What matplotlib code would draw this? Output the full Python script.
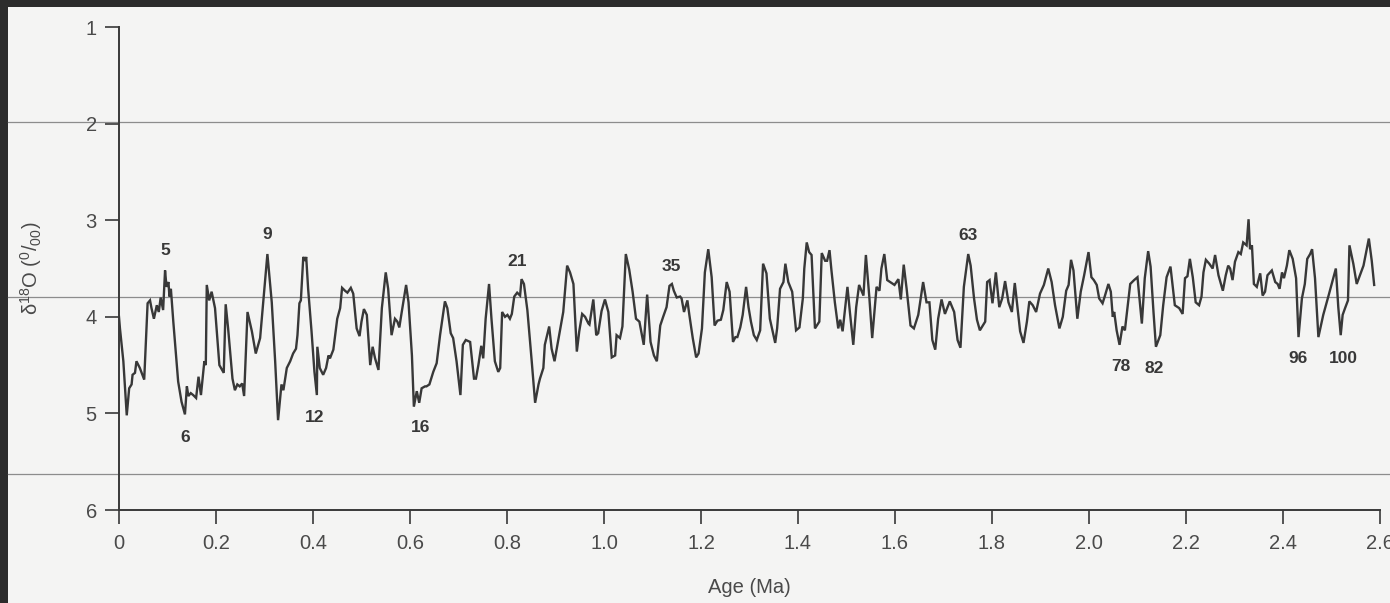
import matplotlib
matplotlib.use("Agg")
import matplotlib.pyplot as plt
from matplotlib.lines import Line2D
from matplotlib.patches import Rectangle

# Benthic oxygen-isotope record, 0-2.6 Ma
age_ma = [
    0.000, 0.002, 0.009, 0.016, 0.021, 0.026, 0.028, 0.033, 0.036, 0.043,
    0.052, 0.059, 0.064, 0.067, 0.072, 0.078, 0.082, 0.086, 0.091, 0.095,
    0.098, 0.102, 0.104, 0.107, 0.112, 0.122, 0.129, 0.136, 0.140, 0.143,
    0.148, 0.153, 0.159, 0.164, 0.169, 0.176, 0.179, 0.181, 0.186, 0.191,
    0.198, 0.207, 0.216, 0.220, 0.225, 0.234, 0.239, 0.244, 0.249, 0.254,
    0.258, 0.265, 0.274, 0.282, 0.291, 0.298,
    0.306, 0.315, 0.322, 0.328, 0.335, 0.339, 0.346, 0.353, 0.359, 0.365,
    0.368, 0.372, 0.375, 0.380, 0.384, 0.386, 0.390, 0.397, 0.403, 0.408,
    0.409, 0.414, 0.421, 0.427, 0.432, 0.435, 0.442, 0.450, 0.456, 0.460,
    0.466, 0.471, 0.478, 0.483, 0.490, 0.496, 0.500, 0.505, 0.511, 0.518,
    0.523, 0.528, 0.535, 0.542, 0.550, 0.555, 0.562, 0.569, 0.574, 0.578,
    0.583, 0.592, 0.597, 0.604, 0.608, 0.614, 0.619, 0.624, 0.631,
    0.634, 0.640, 0.648, 0.655, 0.662, 0.672, 0.677, 0.684, 0.689, 0.696,
    0.704, 0.709, 0.715, 0.724, 0.732, 0.736, 0.741, 0.747, 0.751, 0.756,
    0.763, 0.768, 0.775, 0.782, 0.786, 0.790, 0.796, 0.801, 0.806, 0.810,
    0.815, 0.821, 0.827, 0.830, 0.835, 0.842, 0.851, 0.858, 0.865, 0.868,
    0.875, 0.878, 0.887, 0.892, 0.898, 0.904, 0.911, 0.916, 0.924, 0.930,
    0.937, 0.944, 0.949, 0.955, 0.961, 0.968,
    0.970, 0.978, 0.984, 0.988, 0.995, 1.002, 1.009, 1.016, 1.023, 1.026,
    1.033, 1.038, 1.045, 1.052, 1.059, 1.066, 1.073, 1.082, 1.089, 1.096,
    1.103, 1.109, 1.116, 1.122, 1.129, 1.135, 1.140, 1.144, 1.150, 1.157,
    1.160, 1.165, 1.172, 1.176, 1.183, 1.190, 1.195, 1.202, 1.208, 1.215,
    1.222, 1.228, 1.234, 1.241, 1.246, 1.253, 1.259, 1.266, 1.271, 1.275,
    1.281,
    1.286, 1.293, 1.298, 1.303, 1.309, 1.315, 1.322, 1.328, 1.335, 1.342,
    1.353, 1.357, 1.363, 1.370, 1.374, 1.380, 1.388, 1.396, 1.403, 1.410,
    1.413, 1.418, 1.423, 1.428, 1.435, 1.444, 1.449, 1.456, 1.460, 1.465,
    1.469, 1.476, 1.483, 1.487, 1.492, 1.502, 1.507, 1.514, 1.520, 1.526,
    1.535, 1.540, 1.547, 1.553, 1.557, 1.562, 1.568, 1.572, 1.578, 1.584,
    1.593, 1.599, 1.607, 1.612, 1.618, 1.624, 1.632,
    1.639, 1.648, 1.658, 1.665, 1.671, 1.677, 1.683, 1.689, 1.696, 1.703,
    1.713, 1.722, 1.729, 1.735, 1.742, 1.751, 1.756, 1.763, 1.769, 1.775,
    1.786, 1.790, 1.795, 1.801, 1.808, 1.815, 1.821, 1.827, 1.834, 1.841,
    1.847, 1.852, 1.858, 1.865, 1.872, 1.877, 1.884, 1.891, 1.899, 1.907,
    1.916, 1.923, 1.930, 1.939,
    1.946, 1.953, 1.958, 1.963, 1.968, 1.976, 1.983, 1.990, 1.999, 2.005,
    2.010, 2.016, 2.021, 2.028, 2.033, 2.040, 2.045, 2.049, 2.052, 2.057,
    2.063, 2.069, 2.074, 2.085, 2.093, 2.100, 2.109, 2.115, 2.122, 2.127,
    2.133, 2.138, 2.147, 2.153, 2.160, 2.168, 2.177, 2.186, 2.193, 2.198,
    2.203, 2.208, 2.214, 2.220, 2.227, 2.232, 2.236, 2.241, 2.248, 2.255,
    2.260, 2.267, 2.276,
    2.282, 2.287, 2.291, 2.296, 2.301, 2.308, 2.313, 2.318, 2.325, 2.329,
    2.332, 2.336, 2.340, 2.346, 2.353, 2.358, 2.363, 2.368, 2.377, 2.384,
    2.389, 2.393, 2.398, 2.402, 2.408, 2.413, 2.420, 2.427, 2.432, 2.439,
    2.445, 2.450, 2.456, 2.460, 2.466, 2.473, 2.483, 2.494, 2.509, 2.514,
    2.519, 2.523, 2.528, 2.534, 2.537, 2.545, 2.552, 2.566, 2.577, 2.583,
    2.588,
]
d18o = [
    4.00, 4.12, 4.46, 5.02, 4.74, 4.70, 4.60, 4.58, 4.46, 4.53,
    4.65, 3.86, 3.83, 3.91, 4.02, 3.88, 3.95, 3.80, 3.93, 3.52,
    3.69, 3.64, 3.79, 3.71, 4.05, 4.67, 4.88, 5.01, 4.72, 4.82,
    4.79, 4.81, 4.84, 4.62, 4.81, 4.46, 4.50, 3.67, 3.83, 3.74,
    3.91, 4.50, 4.58, 3.87, 4.12, 4.64, 4.76, 4.70, 4.72, 4.69,
    4.82, 3.95, 4.15, 4.38, 4.22, 3.81,
    3.35, 3.85, 4.46, 5.07, 4.70, 4.76, 4.53, 4.46, 4.38, 4.33,
    4.19, 3.86, 3.83, 3.38, 3.42, 3.38, 3.71, 4.15, 4.57, 4.81,
    4.31, 4.53, 4.60, 4.53, 4.40, 4.43, 4.34, 4.02, 3.91, 3.70,
    3.73, 3.75, 3.70, 3.76, 4.12, 4.20, 4.05, 3.92, 3.98, 4.50,
    4.31, 4.43, 4.55, 3.91, 3.54, 3.71, 4.19, 4.02, 4.05, 4.11,
    3.95, 3.67, 3.85, 4.40, 4.93, 4.77, 4.89, 4.74, 4.72,
    4.72, 4.70, 4.57, 4.48, 4.19, 3.84, 3.91, 4.17, 4.22, 4.46,
    4.81, 4.29, 4.24, 4.26, 4.64, 4.64, 4.50, 4.30, 4.43, 4.02,
    3.66, 4.02, 4.46, 4.57, 4.53, 3.95, 4.00, 3.98, 4.02, 3.97,
    3.79, 3.75, 3.78, 3.61, 3.66, 3.93, 4.46, 4.89, 4.70, 4.64,
    4.53, 4.29, 4.10, 4.33, 4.46, 4.29, 4.09, 3.95, 3.47, 3.54,
    3.66, 4.36, 4.15, 3.97, 4.00, 4.07,
    4.08, 3.82, 4.19, 4.17, 3.94, 3.82, 3.95, 4.42, 4.40, 4.19,
    4.22, 4.10, 3.35, 3.51, 3.74, 4.02, 4.05, 4.29, 3.77, 4.26,
    4.40, 4.46, 4.09, 4.00, 3.90, 3.68, 3.66, 3.73, 3.80, 3.79,
    3.81, 3.95, 3.83, 3.98, 4.22, 4.42, 4.38, 4.12, 3.54, 3.30,
    3.59, 4.09, 4.04, 4.03, 3.93, 3.64, 3.74, 4.26, 4.21, 4.21,
    4.11,
    3.98, 3.69, 3.90, 4.05, 4.19, 4.24, 4.14, 3.45, 3.55, 4.02,
    4.27, 4.12, 3.71, 3.64, 3.45, 3.64, 3.74, 4.14, 4.11, 3.81,
    3.50, 3.23, 3.33, 3.36, 4.12, 4.05, 3.34, 3.42, 3.42, 3.31,
    3.52, 3.85, 4.12, 4.03, 4.15, 3.69, 3.95, 4.29, 3.90, 3.67,
    3.78, 3.36, 3.79, 4.22, 3.98, 3.69, 3.73, 3.50, 3.35, 3.62,
    3.65, 3.67, 3.61, 3.82, 3.46, 3.71, 4.09,
    4.12, 3.98, 3.64, 3.85, 3.85, 4.24, 4.34, 4.02, 3.82, 3.97,
    3.84, 3.95, 4.24, 4.32, 3.69, 3.35, 3.47, 3.81, 4.03, 4.14,
    4.05, 3.64, 3.62, 3.86, 3.54, 3.90, 3.81, 3.63, 3.85, 3.95,
    3.65, 3.88, 4.15, 4.27, 4.05, 3.84, 3.88, 3.95, 3.76, 3.67,
    3.50, 3.64, 3.88, 4.12,
    4.00, 3.73, 3.67, 3.41, 3.52, 4.02, 3.74, 3.57, 3.33, 3.59,
    3.62, 3.67, 3.81, 3.86, 3.78, 3.66, 3.74, 4.00, 3.95, 4.14,
    4.29, 4.10, 4.14, 3.66, 3.62, 3.59, 4.07, 3.60, 3.32, 3.48,
    3.95, 4.31, 4.19, 3.88, 3.59, 3.48, 3.88, 3.91, 3.97, 3.60,
    3.58, 3.40, 3.59, 3.85, 3.88, 3.79, 3.54, 3.41, 3.45, 3.50,
    3.36, 3.57, 3.73,
    3.57, 3.47, 3.50, 3.62, 3.43, 3.33, 3.35, 3.23, 3.26, 2.99,
    3.30, 3.26, 3.66, 3.69, 3.55, 3.78, 3.74, 3.57, 3.52, 3.64,
    3.66, 3.71, 3.54, 3.60, 3.47, 3.31, 3.40, 3.60, 4.21, 3.81,
    3.66, 3.40, 3.35, 3.30, 3.60, 4.21, 3.98, 3.78, 3.50, 3.90,
    4.19, 3.98, 3.91, 3.83, 3.26, 3.45, 3.66, 3.47, 3.19, 3.42,
    3.67,
]

# Marine isotope stage numbers and where they sit
stage_names = ["5", "6", "9", "12", "16", "21", "35", "63", "78", "82", "96", "100"]
stage_age = [0.095, 0.136, 0.305, 0.404, 0.621, 0.821, 1.138, 1.751, 2.066, 2.134, 2.431, 2.524]
stage_d18o = [3.31, 5.25, 3.15, 5.04, 5.15, 3.43, 3.48, 3.16, 4.51, 4.53, 4.43, 4.43]

x_ticks = [0, 0.2, 0.4, 0.6, 0.8, 1.0, 1.2, 1.4, 1.6, 1.8, 2.0, 2.2, 2.4, 2.6]
x_ticklabels = ["0", "0.2", "0.4", "0.6", "0.8", "1.0", "1.2", "1.4",
                "1.6", "1.8", "2.0", "2.2", "2.4", "2.6"]
y_ticks = [1, 2, 3, 4, 5, 6]

PAPER = "#f4f4f3"
INK = "#383838"
LABEL = "#4a4a4a"

plt.rcParams["font.family"] = ["Liberation Sans Narrow", "Liberation Sans", "DejaVu Sans"]
plt.rcParams["mathtext.default"] = "regular"

fig = plt.figure(figsize=(13.9, 6.03), dpi=100, facecolor=PAPER)

# page edges and faint rules running across the sheet
fig.add_artist(Rectangle((0, 0), 8 / 1390, 1, transform=fig.transFigure,
                         facecolor="#2c2c2c", edgecolor="none", zorder=0))
fig.add_artist(Rectangle((0, 1 - 7 / 603), 1, 7 / 603, transform=fig.transFigure,
                         facecolor="#2c2c2c", edgecolor="none", zorder=0))
for yf in (1 - 122 / 603, 1 - 297 / 603, 1 - 474 / 603):
    fig.add_artist(Line2D([8 / 1390, 1], [yf, yf], transform=fig.transFigure,
                          color="#8c8c8c", lw=0.9, zorder=0))

ax = fig.add_axes([0.0856, 0.1542, 0.9072, 0.801])
ax.patch.set_visible(False)

ax.plot(age_ma, d18o, color=INK, lw=1.7, solid_joinstyle="miter")

for name, xa, ya in zip(stage_names, stage_age, stage_d18o):
    ax.text(xa, ya, name, ha="center", va="center", fontsize=12.5,
            fontweight="bold", color=INK, family=["Liberation Sans", "DejaVu Sans"])

ax.set_xlim(0, 2.6)
ax.set_ylim(6, 1)
ax.set_xticks(x_ticks)
ax.set_xticklabels(x_ticklabels)
ax.set_yticks(y_ticks)

for side in ("top", "right"):
    ax.spines[side].set_visible(False)
for side in ("left", "bottom"):
    ax.spines[side].set_color(INK)
    ax.spines[side].set_linewidth(1.4)

ax.tick_params(axis="x", direction="out", length=10, width=1.2, color=INK,
               pad=7, labelsize=14.5, labelcolor=LABEL)
ax.tick_params(axis="y", direction="out", length=10, width=1.2, color=INK,
               pad=6, labelsize=14.5, labelcolor=LABEL)

ax.set_xlabel("Age (Ma)", fontsize=14.5, color=LABEL, labelpad=18)
ax.set_ylabel(r"δ$^{18}$O ($^{0}/_{00}$)", fontsize=14.5, color=LABEL, labelpad=30)

fig.savefig("out.png", dpi=100, facecolor=PAPER)
